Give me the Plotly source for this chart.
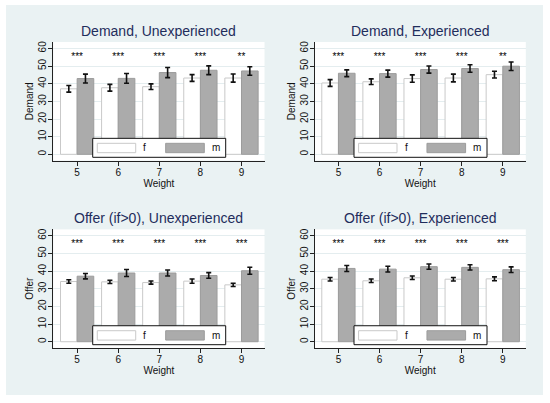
import plotly.graph_objects as go

# ---------------- data ----------------
weights = [5, 6, 7, 8, 9]
groups = ["f", "m"]

titles = ["Demand, Unexperienced", "Demand, Experienced",
          "Offer (if>0), Unexperienced", "Offer (if>0), Experienced"]
ytitles = ["Demand", "Demand", "Offer", "Offer"]

demand_unexp_f = [37.1, 37.7, 38.3, 43.2, 43.2]
demand_unexp_f_err = [1.9, 1.9, 1.6, 1.9, 2.3]
demand_unexp_m = [42.9, 43.0, 46.3, 47.6, 47.2]
demand_unexp_m_err = [2.5, 2.8, 2.9, 2.5, 2.4]
demand_unexp_stars = ["***", "***", "***", "***", "**"]

demand_exp_f = [40.4, 41.1, 42.9, 43.2, 45.1]
demand_exp_f_err = [1.9, 1.6, 2.1, 2.2, 1.9]
demand_exp_m = [45.9, 45.7, 48.0, 48.6, 49.9]
demand_exp_m_err = [1.9, 2.0, 2.0, 2.1, 2.4]
demand_exp_stars = ["***", "***", "***", "***", "**"]

offer_unexp_f = [34.1, 33.9, 33.5, 34.3, 32.2]
offer_unexp_f_err = [1.0, 0.9, 0.9, 1.2, 0.9]
offer_unexp_m = [37.1, 38.9, 38.9, 37.5, 40.2]
offer_unexp_m_err = [1.5, 2.0, 1.7, 1.6, 2.0]
offer_unexp_stars = ["***", "***", "***", "***", "***"]

offer_exp_f = [35.4, 34.5, 36.2, 35.4, 35.6]
offer_exp_f_err = [1.0, 1.0, 1.0, 1.0, 1.1]
offer_exp_m = [41.5, 41.1, 42.5, 42.1, 40.8]
offer_exp_m_err = [1.7, 1.6, 1.5, 1.5, 1.6]
offer_exp_stars = ["***", "***", "***", "***", "***"]

y_ticks = [0, 10, 20, 30, 40, 50, 60]

panels = [
    (demand_unexp_f, demand_unexp_f_err, demand_unexp_m, demand_unexp_m_err, demand_unexp_stars),
    (demand_exp_f, demand_exp_f_err, demand_exp_m, demand_exp_m_err, demand_exp_stars),
    (offer_unexp_f, offer_unexp_f_err, offer_unexp_m, offer_unexp_m_err, offer_unexp_stars),
    (offer_exp_f, offer_exp_f_err, offer_exp_m, offer_exp_m_err, offer_exp_stars),
]

# ---------------- style ----------------
W, H = 550, 403
BG = "#EAF2F3"
GRID = "#E4EDEF"
NAVY = "#1F2D5C"
FONT = "Liberation Sans, Arial, sans-serif"
F_FILL, F_LINE = "#FFFFFF", "#C9C9C9"
M_FILL, M_LINE = "#ABABAB", "#9C9C9C"
STAR_Y = 55.0

# pixel layout -> paper fractions
col_px = [(53.3, 264.5), (314.6, 525.8)]
row_px = [(42.0, 160.5), (229.4, 347.9)]
title_px = [31.0, 218.4]


def xdom(c):
    return [col_px[c][0] / W, col_px[c][1] / W]


def ydom(r):
    return [1 - row_px[r][1] / H, 1 - row_px[r][0] / H]


fig = go.Figure()
layout_axes = {}
annotations = []
shapes = []

for i, (fv, fe, mv, me, stars) in enumerate(panels):
    r, c = divmod(i, 2)
    n = "" if i == 0 else str(i + 1)
    xa, ya = "x" + n, "y" + n
    fig.add_trace(go.Bar(
        x=weights, y=fv, name="f", xaxis=xa, yaxis=ya, offsetgroup="f",
        marker=dict(color=F_FILL, line=dict(color=F_LINE, width=1)),
        error_y=dict(type="data", array=fe, color="#111111", thickness=1.6, width=2.5),
        showlegend=False))
    fig.add_trace(go.Bar(
        x=weights, y=mv, name="m", xaxis=xa, yaxis=ya, offsetgroup="m",
        marker=dict(color=M_FILL, line=dict(color=M_LINE, width=1)),
        error_y=dict(type="data", array=me, color="#111111", thickness=1.6, width=2.5),
        showlegend=False))
    fig.add_trace(go.Scatter(
        x=weights, y=[STAR_Y] * len(weights), mode="text", text=stars,
        textfont=dict(size=10, color="#000000", family=FONT),
        xaxis=xa, yaxis=ya, showlegend=False, hoverinfo="skip"))

    layout_axes["xaxis" + n] = dict(
        domain=xdom(c), anchor=ya, range=[4.42, 9.56],
        tickvals=weights, ticks="outside", ticklen=4, tickcolor="#222222",
        ticklabelstandoff=-2,
        showline=True, linecolor="#222222", linewidth=1, showgrid=False,
        zeroline=False, tickfont=dict(size=10, color="#111111", family=FONT),
        title=dict(text="Weight", font=dict(size=10, color="#111111", family=FONT), standoff=2),
    )
    layout_axes["yaxis" + n] = dict(
        domain=ydom(r), anchor=xa, range=[-3.5, 63.6],
        tickvals=y_ticks, ticks="outside", ticklen=4, tickcolor="#222222",
        ticklabelstandoff=-2,
        tickangle=-90, showline=True, linecolor="#222222", linewidth=1,
        showgrid=True, gridcolor=GRID, gridwidth=1, zeroline=False,
        tickfont=dict(size=10, color="#111111", family=FONT),
        title=dict(text=ytitles[i], font=dict(size=10, color="#111111", family=FONT), standoff=1),
    )

    # panel title
    annotations.append(dict(
        text=titles[i], xref="paper", yref="paper",
        x=sum(xdom(c)) / 2, y=1 - title_px[r] / H, xanchor="center", yanchor="middle",
        showarrow=False, font=dict(size=14, color=NAVY, family=FONT)))

    # in-plot legend box
    xr, yr = xa + " domain", ya + " domain"
    shapes.append(dict(type="rect", xref=xr, yref=yr, x0=0.1866, x1=0.8163, y0=0.027, y1=0.187,
                       fillcolor="white", line=dict(color="#111111", width=1), layer="above"))
    shapes.append(dict(type="rect", xref=xr, yref=yr, x0=0.2083, x1=0.3902, y0=0.066, y1=0.145,
                       fillcolor=F_FILL, line=dict(color=F_LINE, width=1), layer="above"))
    shapes.append(dict(type="rect", xref=xr, yref=yr, x0=0.532, x1=0.715, y0=0.066, y1=0.145,
                       fillcolor=M_FILL, line=dict(color=M_LINE, width=1), layer="above"))
    for gx, g in zip([0.434, 0.769], groups):
        annotations.append(dict(
            text=g, xref=xr, yref=yr, x=gx, y=0.106, xanchor="center", yanchor="middle",
            showarrow=False, font=dict(size=10, color="#111111", family=FONT)))

# white outer border around the light-blue graph region
shapes += [
    dict(type="rect", xref="paper", yref="paper", x0=0, x1=6 / W, y0=0, y1=1,
         fillcolor="white", line=dict(width=0), layer="below"),
    dict(type="rect", xref="paper", yref="paper", x0=543 / W, x1=1, y0=0, y1=1,
         fillcolor="white", line=dict(width=0), layer="below"),
    dict(type="rect", xref="paper", yref="paper", x0=0, x1=1, y0=1 - 5 / H, y1=1,
         fillcolor="white", line=dict(width=0), layer="below"),
    dict(type="rect", xref="paper", yref="paper", x0=0, x1=1, y0=0, y1=1 - 395 / H,
         fillcolor="white", line=dict(width=0), layer="below"),
]

fig.update_layout(
    width=W, height=H, margin=dict(l=0, r=0, t=0, b=0),
    paper_bgcolor=BG, plot_bgcolor="white",
    barmode="group", bargap=0.19, bargroupgap=0,
    showlegend=False, font=dict(family=FONT, color="#111111"),
    annotations=annotations, shapes=shapes,
    **layout_axes,
)

fig.write_html("out.html", config={"displayModeBar": False},
               post_script="document.body.style.margin='0';")
